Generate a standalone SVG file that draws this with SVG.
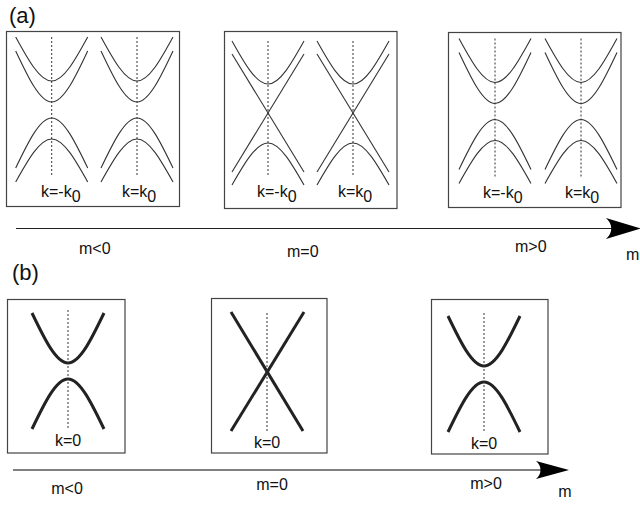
<svg xmlns="http://www.w3.org/2000/svg" xmlns:xlink="http://www.w3.org/1999/xlink" width="640" height="506" viewBox="0 0 640 506">
  <style>
    .box { fill: #fff; stroke: #444; stroke-width: 1.2; }
    .thin { fill: none; stroke: #333; stroke-width: 1.1; }
    .thick { fill: none; stroke: #222; stroke-width: 3; }
    .dash { fill: none; stroke: #333; stroke-width: 1; stroke-dasharray: 2 2; }
    .lbl { font-family: "Liberation Sans", Arial, sans-serif; font-size: 16px; fill: #111; }
    .tag { font-family: "Liberation Sans", Arial, sans-serif; font-size: 22px; fill: #111; }
  </style>
  <defs>
    <!-- gapped valley with two pairs of bands (massive case) -->
    <g id="valley4">
      <path class="thin" d="M -36,-73 C -24,-51 -12,-29 0,-29 S 24,-51 36,-73"/>
      <path class="thin" d="M -36,-59 C -24,-33.5 -12,-8 0,-8 S 24,-33.5 36,-59"/>
      <path class="thin" d="M -36,58 C -24,33 -12,8 0,8 S 24,33 36,58"/>
      <path class="thin" d="M -36,72 C -24,50.5 -12,29 0,29 S 24,50.5 36,72"/>
      <line class="dash" x1="0" y1="-73" x2="0" y2="65"/>
    </g>
    <!-- valley at the transition: one Dirac cone plus gapped bands -->
    <g id="valleyX">
      <path class="thin" d="M -36,-72 C -24,-50.5 -12,-29 0,-29 S 24,-50.5 36,-72"/>
      <path class="thin" d="M -36,72 C -24,51 -12,30 0,30 S 24,51 36,72"/>
      <line class="thin" x1="-36" y1="-59" x2="36" y2="59"/>
      <line class="thin" x1="36" y1="-59" x2="-36" y2="59"/>
      <line class="dash" x1="0" y1="-72" x2="0" y2="64"/>
    </g>
    <!-- single gapped Dirac valley -->
    <g id="valley2">
      <path class="thick" d="M -36,-58 C -24,-33 -12,-8 0,-8 S 24,-33 36,-58"/>
      <path class="thick" d="M -36,58 C -24,33 -12,8 0,8 S 24,33 36,58"/>
      <line class="dash" x1="0" y1="-61" x2="0" y2="58"/>
    </g>
    <!-- gapless Dirac cone -->
    <g id="cone">
      <line class="thick" x1="-36" y1="-61" x2="36" y2="58"/>
      <line class="thick" x1="37" y1="-61" x2="-36" y2="58"/>
      <line class="dash" x1="0" y1="-60" x2="0" y2="60"/>
    </g>
  </defs>

  <!-- panel labels -->
  <text class="tag" x="9" y="23">(a)</text>
  <text class="tag" x="12" y="280">(b)</text>

  <!-- (a) two-valley spectra -->
  <g id="a-neg">
    <rect class="box" x="6.5" y="31.5" width="173" height="175"/>
    <use xlink:href="#valley4" transform="translate(51.7,110)"/>
    <use xlink:href="#valley4" transform="translate(137,110)"/>
    <text class="lbl" x="41" y="197">k=-k<tspan dy="5">0</tspan></text>
    <text class="lbl" x="122" y="197">k=k<tspan dy="5">0</tspan></text>
  </g>
  <g id="a-zero">
    <rect class="box" x="224.5" y="31.5" width="172.5" height="177"/>
    <use xlink:href="#valleyX" transform="translate(268,113)"/>
    <use xlink:href="#valleyX" transform="translate(353,113)"/>
    <text class="lbl" x="257" y="197">k=-k<tspan dy="5">0</tspan></text>
    <text class="lbl" x="338" y="197">k=k<tspan dy="5">0</tspan></text>
  </g>
  <g id="a-pos">
    <rect class="box" x="448.5" y="32.5" width="172.5" height="175"/>
    <use xlink:href="#valley4" transform="translate(495,111.5)"/>
    <use xlink:href="#valley4" transform="translate(581,111.5)"/>
    <text class="lbl" x="483" y="198">k=-k<tspan dy="5">0</tspan></text>
    <text class="lbl" x="565" y="198">k=k<tspan dy="5">0</tspan></text>
  </g>

  <!-- (b) single-valley spectra -->
  <g id="b-neg">
    <rect class="box" x="7.5" y="299.5" width="117.5" height="153.5"/>
    <use xlink:href="#valley2" transform="translate(68,371)"/>
    <text class="lbl" x="68" y="446" text-anchor="middle">k=0</text>
  </g>
  <g id="b-zero">
    <rect class="box" x="211.5" y="298.5" width="115.5" height="154.5"/>
    <use xlink:href="#cone" transform="translate(267,373)"/>
    <text class="lbl" x="267" y="448" text-anchor="middle">k=0</text>
  </g>
  <g id="b-pos">
    <rect class="box" x="431.5" y="299.5" width="116.5" height="154.5"/>
    <use xlink:href="#valley2" transform="translate(484,374)"/>
    <text class="lbl" x="484" y="449" text-anchor="middle">k=0</text>
  </g>

  <!-- mass axes -->
  <g id="connectors">
    <line x1="16" y1="228.5" x2="612" y2="228.5" stroke="#222" stroke-width="1.2"/>
    <path d="M 641,228.5 L 606,218 C 613,224 613,233 606,239 Z" fill="#000"/>
    <line x1="13" y1="470" x2="542" y2="470" stroke="#808080" stroke-width="2"/>
    <path d="M 569,470 L 536,461 C 542,466 542,474 536,479 Z" fill="#000"/>
  </g>

  <!-- axis labels -->
  <text class="lbl" x="79" y="254">m&lt;0</text>
  <text class="lbl" x="287" y="257">m=0</text>
  <text class="lbl" x="515" y="252">m&gt;0</text>
  <text class="lbl" x="626" y="260">m</text>
  <text class="lbl" x="67" y="494" text-anchor="middle">m&lt;0</text>
  <text class="lbl" x="272" y="490" text-anchor="middle">m=0</text>
  <text class="lbl" x="486" y="489" text-anchor="middle">m&gt;0</text>
  <text class="lbl" x="565" y="497" text-anchor="middle">m</text>
</svg>
